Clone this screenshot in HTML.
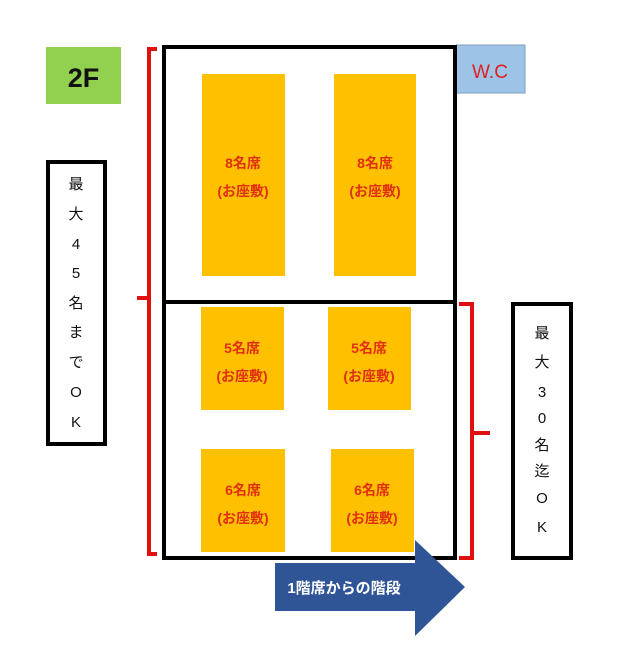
<!DOCTYPE html>
<html><head><meta charset="utf-8"><style>
html,body{margin:0;padding:0;background:#fff;}
svg{display:block;}
text{font-family:"Liberation Sans","Noto Sans CJK JP",sans-serif;}
</style></head><body>
<svg width="618" height="653" viewBox="0 0 618 653" xmlns="http://www.w3.org/2000/svg">
<rect x="46" y="47" width="75" height="57" fill="#92d050"/>
<text x="83.5" y="87" font-size="27" font-weight="bold" text-anchor="middle" fill="#111">2F</text>
<rect x="456" y="45" width="69" height="48" fill="#9dc3e6" stroke="#7f9fbf" stroke-width="1"/>
<text x="490" y="78" font-size="19" text-anchor="middle" fill="#e02020">W.C</text>
<rect x="164" y="47" width="291" height="511" fill="none" stroke="#000" stroke-width="4"/>
<line x1="164" y1="302" x2="455" y2="302" stroke="#000" stroke-width="4"/>
<g fill="#ffc000">
<rect x="202" y="74" width="83" height="202"/>
<rect x="334" y="74" width="82" height="202"/>
<rect x="201" y="307" width="83" height="103"/>
<rect x="328" y="307" width="83" height="103"/>
<rect x="201" y="449" width="84" height="103"/>
<rect x="331" y="449" width="83" height="103"/>
</g>
<g font-size="14" font-weight="bold" fill="#e03010" text-anchor="middle">
<text x="243" y="168">8名席</text><text x="243" y="196">(お座敷)</text>
<text x="375" y="168">8名席</text><text x="375" y="196">(お座敷)</text>
<text x="242" y="353">5名席</text><text x="242" y="381">(お座敷)</text>
<text x="369" y="353">5名席</text><text x="369" y="381">(お座敷)</text>
<text x="243" y="495">6名席</text><text x="243" y="523">(お座敷)</text>
<text x="372" y="495">6名席</text><text x="372" y="523">(お座敷)</text>
</g>
<path d="M157 49 H149 V298 H137 M149 298 V306 V554 H157" fill="none" stroke="#e01010" stroke-width="4"/>
<path d="M459 304 H472 V433 H490 M472 433 V558 H459" fill="none" stroke="#e01010" stroke-width="4"/>
<rect x="48" y="162" width="57" height="282" fill="#fff" stroke="#000" stroke-width="4"/>
<g font-size="15" text-anchor="middle" fill="#111">
<text x="76" y="189">最</text><text x="76" y="219">大</text><text x="76" y="249">4</text><text x="76" y="278">5</text><text x="76" y="308">名</text><text x="76" y="337">ま</text><text x="76" y="367">で</text><text x="76" y="397">O</text><text x="76" y="427">K</text>
</g>
<rect x="513" y="304" width="58" height="254" fill="#fff" stroke="#000" stroke-width="4"/>
<g font-size="15" text-anchor="middle" fill="#111">
<text x="542" y="338">最</text><text x="542" y="367">大</text><text x="542" y="397">3</text><text x="542" y="423">0</text><text x="542" y="450">名</text><text x="542" y="476">迄</text><text x="542" y="503">O</text><text x="542" y="532">K</text>
</g>
<path d="M275 563 H415 V540 L465 587 L415 636 V611 H275 Z" fill="#2f5597"/>
<text x="344" y="593" font-size="15" font-weight="bold" text-anchor="middle" fill="#fff">1階席からの階段</text>
</svg>
</body></html>
